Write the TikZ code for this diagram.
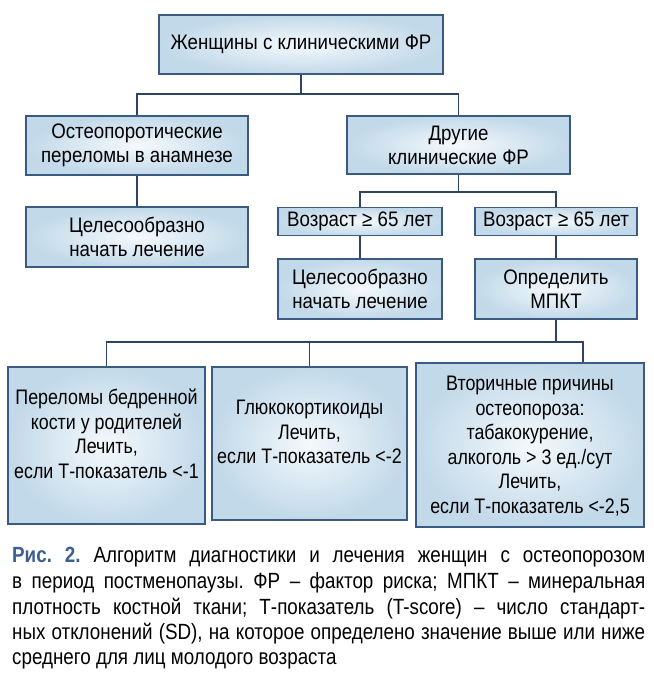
\documentclass[tikz,border=0pt]{standalone}
\usepackage{fontspec}
\setmainfont{Liberation Sans}
\newfontfamily\boxfont{Liberation Sans}[FakeStretch=0.89]
\newfontfamily\lowfont{Liberation Sans}[FakeStretch=0.85]
\newfontfamily\capfont{Liberation Sans}[FakeStretch=0.855]
\definecolor{bx}{HTML}{3A5A80}
\definecolor{ln}{HTML}{2E4462}
\definecolor{fillA}{HTML}{C2D9E9}
\definecolor{fillB}{HTML}{F4F9FC}
\definecolor{capblue}{HTML}{3D5F92}
\begin{document}
\frenchspacing
\begin{tikzpicture}[x=1pt,y=-1pt,
  box/.style={draw=bx, line width=1.6pt, inner color=fillB, outer color=fillA, align=center, inner sep=0pt, font=\boxfont\fontsize{21}{24}\selectfont, text=black},
  txt/.style={align=center, inner sep=0pt, font=\lowfont\fontsize{21}{24.5}\selectfont, text=black},
  captext/.style={anchor=base west, inner sep=0pt, font=\capfont\fontsize{22}{25}\selectfont, text=black},
  conn/.style={draw=ln, line width=1.8pt}]
\useasboundingbox (0,0) rectangle (654,681);
\fill[white] (0,0) rectangle (654,681);

% boxes
\node[box, minimum width=284pt, minimum height=59pt] (top) at (301,44.5) {Женщины с клиническими ФР};
\node[box, minimum width=222pt, minimum height=59pt] (A) at (137,145.5) {Остеопоротические\\переломы в анамнезе};
\node[box, minimum width=223pt, minimum height=58pt] (B) at (458.5,145) {Другие\\клинические ФР};
\node[box, minimum width=222pt, minimum height=60pt] (C) at (137,237) {Целесообразно\\начать лечение};
\node[box, minimum width=164pt, minimum height=28pt] (V1) at (360,221.5) {Возраст ≥ 65 лет};
\node[box, minimum width=162pt, minimum height=28pt] (V2) at (556,221.5) {Возраст ≥ 65 лет};
\node[box, minimum width=164pt, minimum height=60pt] (C2) at (360,289) {Целесообразно\\начать лечение};
\node[box, minimum width=162pt, minimum height=60pt] (M) at (556,289) {Определить\\МПКТ};

\node[box, minimum width=197pt, minimum height=157pt] (R1) at (106.5,445.5) {};
\node[box, minimum width=195pt, minimum height=153pt] (R2) at (309.5,443.5) {};
\node[box, minimum width=228pt, minimum height=164pt] (R3) at (530,445) {};
\node[txt] (R1t) at (106.5,434) {Переломы бедренной\\кости у родителей\\Лечить,\\если Т-показатель <-1};
\node[txt] (R2t) at (309.5,432) {Глюкокортикоиды\\Лечить,\\если Т-показатель <-2};
\node[txt] (R3t) at (530,446) {Вторичные причины\\остеопороза:\\табакокурение,\\алкоголь > 3 ед./сут\\Лечить,\\если Т-показатель <-2,5};

% connectors
\coordinate (b1) at (301,94);
\draw[conn] (top.south) -- (b1);
\draw[conn] (A.north) |- (b1) -| (B.north);
\draw[conn] (A.south) -- (C.north);
\coordinate (b2) at (458.5,192);
\draw[conn] (B.south) -- (b2);
\draw[conn] (V1.north) |- (b2) -| (V2.north);
\draw[conn] (V1.south) -- (C2.north);
\draw[conn] (V2.south) -- (M.north);
\coordinate (b3) at (556,342);
\coordinate (d3) at (583,342);
\draw[conn] (M.south) -- (b3);
\draw[conn] (R1.north) |- (d3) -- (d3 |- R3.north);
\draw[conn] (R2.north) -- (R2.north |- d3);

% caption
\node[captext] (cap1) at (12,562) {\makebox[633pt][s]{\textcolor{capblue}{\textbf{Рис.~2.}} Алгоритм диагностики и лечения женщин с остеопорозом}};
\node[captext] (cap2) at (12,588) {\makebox[633pt][s]{в период постменопаузы. ФР – фактор риска; МПКТ – минеральная}};
\node[captext] (cap3) at (12,614) {\makebox[633pt][s]{плотность костной ткани; Т-показатель (T-score) – число стандарт-}};
\node[captext] (cap4) at (12,639) {\makebox[633pt][s]{ных отклонений (SD), на которое определено значение выше или ниже}};
\node[captext] (cap5) at (12,664) {среднего для лиц молодого возраста};
\end{tikzpicture}
\end{document}
